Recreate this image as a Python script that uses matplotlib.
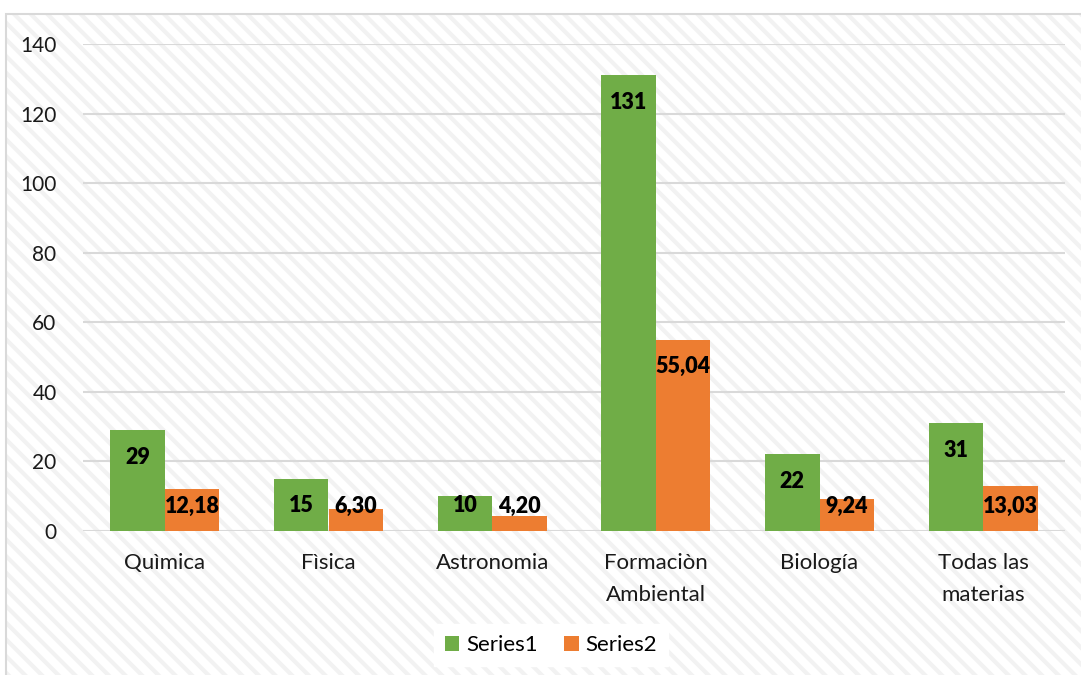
import matplotlib
matplotlib.use("Agg")
import matplotlib.pyplot as plt
from matplotlib.patches import Rectangle
import numpy as np

categories = ["Quìmica", "Fìsica", "Astronomia", "Formaciòn\nAmbiental", "Biología", "Todas las\nmaterias"]
series1 = [29, 15, 10, 131, 22, 31]
series2 = [12.18, 6.30, 4.20, 55.04, 9.24, 13.03]
series_names = ["Series1", "Series2"]
yticks = [0, 20, 40, 60, 80, 100, 120, 140]

GREEN = "#70AD47"
ORANGE = "#ED7D31"
GRID = "#D9D9D9"
FONT = "Lato"

plt.rcParams["font.family"] = [FONT, "DejaVu Sans"]
plt.rcParams["hatch.linewidth"] = 3.0

W, H = 1081, 675
fig = plt.figure(figsize=(W / 100, H / 100), dpi=100)
fig.patch.set_facecolor("white")

# chart frame with faint diagonal stripes
stripes = Rectangle((6 / W, -0.05), 1.2, 1 - 14 / H + 0.05, transform=fig.transFigure,
                    facecolor="white", edgecolor="#F2F2F2", linewidth=0,
                    hatch="\\\\", zorder=-2)
border = Rectangle((6 / W, -0.05), 1.2, 1 - 14 / H + 0.05, transform=fig.transFigure,
                   facecolor="none", edgecolor=GRID, linewidth=1.5, zorder=-1)
fig.patches.extend([stripes, border])

ax = fig.add_axes([83 / W, 1 - 531 / H, (1065 - 83) / W, (531 - 44) / H])
ax.set_facecolor("none")

x = np.arange(len(categories))
bw = 0.333
b1 = ax.bar(x - bw / 2, series1, bw, color=GREEN, label=series_names[0], zorder=3)
b2 = ax.bar(x + bw / 2, series2, bw, color=ORANGE, label=series_names[1], zorder=3)

ax.set_xlim(-0.5, len(categories) - 0.5)
ax.set_ylim(0, 140)
ax.set_yticks(yticks)
ax.set_yticklabels([str(t) for t in yticks], fontsize=15, color="#1a1a1a")
ax.set_xticks(x)
ax.set_xticklabels(categories, fontsize=16, color="#1a1a1a", linespacing=1.75)
ax.tick_params(axis="y", length=0, pad=19)
ax.tick_params(axis="x", length=0, pad=16)
for s in ax.spines.values():
    s.set_visible(False)
ax.yaxis.grid(True, color=GRID, linewidth=1.5, zorder=1)
ax.set_axisbelow(True)


def fmt(v, decimals):
    return f"{v:.{decimals}f}".replace(".", ",")


# value labels placed inside the top of each bar
for bars, vals, dec in ((b1, series1, 0), (b2, series2, 2)):
    for rect, v in zip(bars, vals):
        ly = max(v - 7.8, 7.2)
        ax.text(rect.get_x() + rect.get_width() / 2, ly, fmt(v, dec),
                ha="center", va="center", fontsize=15.5, fontweight="heavy",
                color="black", zorder=4)

leg = ax.legend(loc="center", bbox_to_anchor=(551 / W, 1 - 645 / H),
                bbox_transform=fig.transFigure, ncol=2, frameon=True,
                fontsize=16, handlelength=0.65, handleheight=0.65,
                handletextpad=0.3, columnspacing=1.2, borderpad=0.5)
leg.get_frame().set_facecolor("white")
leg.get_frame().set_edgecolor("white")
leg.get_frame().set_alpha(1)
leg.get_frame().set_boxstyle("square", pad=0)

fig.savefig("out.png", dpi=100)
